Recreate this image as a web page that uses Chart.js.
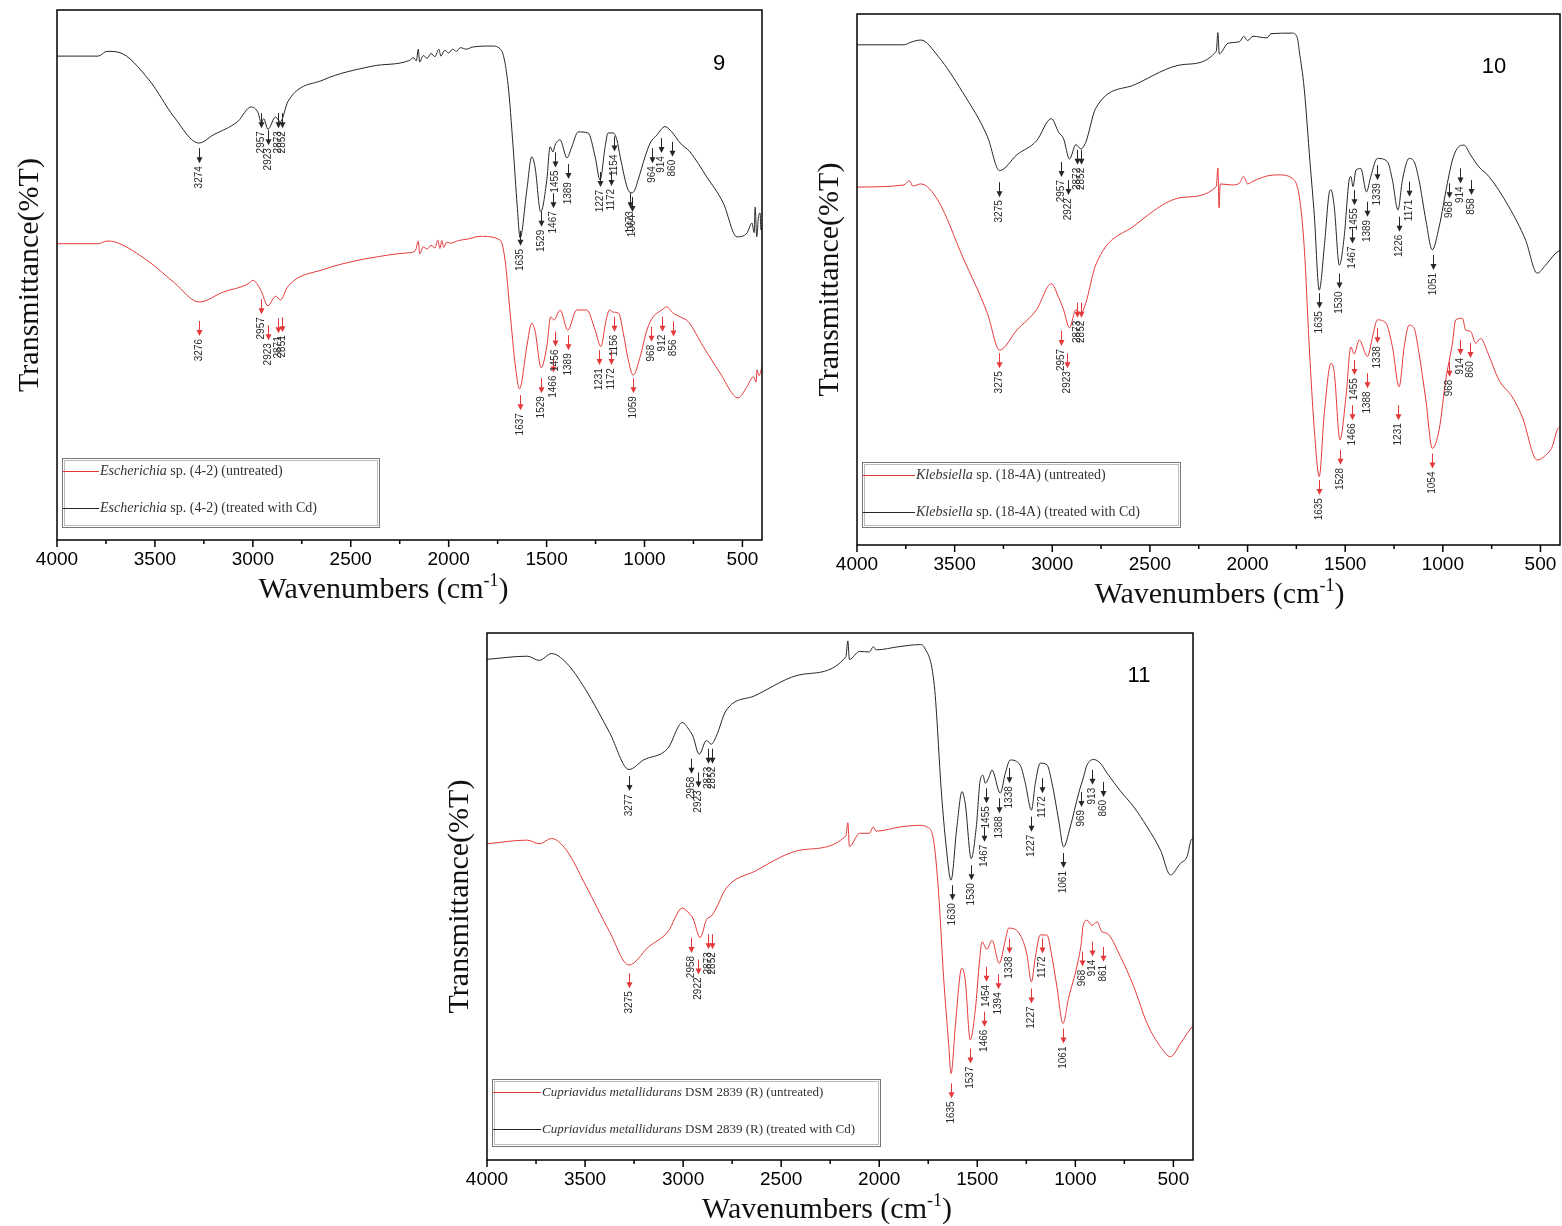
<!DOCTYPE html>
<html>
<head>
<meta charset="utf-8">
<title>FTIR spectra</title>
<script src="https://cdn.jsdelivr.net/npm/chart.js@4.4.1/dist/chart.umd.min.js"></script>
<style>
    body { margin: 0; background: #fff; }
    #page { position: relative; width: 1562px; height: 1226px; overflow: hidden; }
    canvas { position: absolute; }
</style>
</head>
<body>
<div id="page">
    <canvas id="chart9" width="780" height="615" style="left:0;top:0"></canvas>
    <canvas id="chart10" width="762" height="620" style="left:800px;top:0"></canvas>
    <canvas id="chart11" width="780" height="606" style="left:430px;top:620px"></canvas>
</div>
<script>
/**
 * Spectra: [wavenumber, relative transmittance] pairs, 4000 -> 400 cm-1.
 */
const p9Treated = [[4000,91.3],[3790,91.3],[3745,92.2],[3683,92],[3530,86.8],[3402,79.8],[3275,74.9],[3203,76.4],[3076,79],[3010,81.7],[2973,80.6],[2957,78.7],[2945,79.5],[2923,77.5],[2884,79.8],[2860,78.9],[2820,82.8],[2641,86.8],[2391,89.4],[2200,90.5],[2180,91],[2165,90.4],[2155,92.6],[2148,90.2],[2130,91.4],[2110,90.9],[2090,91.8],[2070,91.2],[2050,92.6],[2040,91.3],[2020,92.4],[2000,91.9],[1980,92.6],[1960,92.2],[1940,92.9],[1910,92.6],[1880,93],[1780,93.2],[1731,92.4],[1697,86],[1671,74.2],[1650,63],[1635,57],[1601,66],[1576,72.3],[1559,70.4],[1530,61.9],[1499,67.9],[1482,74.2],[1467,73.2],[1457,74.5],[1431,75.5],[1396,72.1],[1371,74.2],[1339,77],[1288,76.8],[1252,72.3],[1227,67.9],[1201,74.2],[1186,76.8],[1160,76.8],[1141,75.5],[1124,72.3],[1083,66],[1064,65.5],[1050,66],[1033,67.9],[997,72.3],[971,74.9],[937,76.4],[895,78],[861,77],[818,74.9],[767,73.2],[682,68.5],[598,63.6],[528,57.2],[477,57.9],[451,59.8],[440,58],[435,62.8],[427,57.2],[418,61],[410,61.7],[405,58.5],[400,59]];
const p9Untreated = [[4000,55.9],[3790,55.9],[3745,56.4],[3700,56.2],[3530,52.5],[3400,48.5],[3275,44.9],[3150,46.8],[3025,48.3],[3000,49],[2960,47.2],[2923,44.2],[2884,46],[2859,45.3],[2820,47.9],[2643,51],[2263,54],[2200,54.2],[2170,54.6],[2155,56.4],[2148,54],[2130,55.3],[2110,54.9],[2090,55.6],[2070,55.1],[2055,56.6],[2045,55],[2035,56.5],[2025,55.2],[2010,56.2],[1990,56],[1950,56.5],[1900,56.8],[1840,57.3],[1737,56.6],[1712,52.8],[1686,42.8],[1660,33],[1638,28.5],[1601,36.5],[1576,40.9],[1559,39.5],[1528,32.5],[1499,36.5],[1479,42.1],[1462,41.5],[1431,43.4],[1392,39.6],[1346,43.4],[1295,43.4],[1252,39.6],[1223,36.5],[1196,41.5],[1179,43.4],[1160,43],[1132,42.8],[1108,39],[1083,34],[1058,31.1],[1022,34.6],[988,39.6],[956,42.1],[911,43.4],[886,44],[854,42.8],[818,42.1],[777,41.2],[700,36.5],[614,31.5],[522,26.8],[477,28.9],[444,30.8],[430,29.8],[426,32.1],[415,31],[400,32.7]];

const p10Treated = [[4000,94.2],[3761,94.2],[3723,94.7],[3673,95.1],[3584,92],[3458,85.2],[3332,76.9],[3270,70.5],[3181,73.5],[3081,76.1],[3005,80.3],[2967,77.7],[2942,76.5],[2912,72.7],[2879,75.4],[2854,74.6],[2829,75.8],[2778,82.2],[2577,86.7],[2325,90.5],[2160,93],[2152,96.5],[2145,92.5],[2100,94.5],[2040,94.8],[2020,95.8],[2000,95],[1972,95.8],[1900,95.5],[1880,96.3],[1771,96.4],[1745,95.5],[1735,93],[1710,86],[1680,72],[1658,62],[1633,48],[1607,56.2],[1582,66.3],[1573,66.9],[1556,63.7],[1530,52.7],[1505,58.1],[1480,68.7],[1471,69.4],[1460,67.5],[1445,70.6],[1420,70.9],[1391,66.5],[1369,69.4],[1335,72.8],[1284,72.2],[1258,68.7],[1230,63.1],[1207,68.7],[1173,72.8],[1147,72.2],[1122,68.7],[1087,61.2],[1054,55.6],[1019,59.9],[977,68.1],[951,72.5],[926,74.7],[892,75.3],[857,73.4],[815,71.2],[764,69.4],[662,63.7],[576,57.4],[517,51.2],[474,52.7],[423,54.9],[400,55.5]];
const p10Untreated = [[4000,67.4],[3761,67.8],[3730,68.6],[3715,67.6],[3673,68],[3584,64.8],[3458,54.2],[3332,43.6],[3270,36.7],[3181,40.5],[3081,44.3],[3005,49.2],[2967,46.6],[2942,44.3],[2912,40.9],[2879,44.3],[2854,43.6],[2829,45.5],[2778,52.7],[2577,60.2],[2325,65.5],[2160,67.5],[2152,71],[2146,63.5],[2140,68],[2080,67.8],[2040,68.2],[2020,69.4],[2000,68],[1972,68.5],[1900,69.5],[1840,69.7],[1769,69],[1735,65.6],[1710,56.2],[1684,37.3],[1658,21.7],[1633,12.9],[1607,24.8],[1573,34.2],[1556,32.5],[1527,19.8],[1496,27.9],[1471,37.3],[1454,36],[1428,38.6],[1386,35.5],[1360,39.2],[1335,42.4],[1292,41.8],[1258,37.3],[1224,29.8],[1198,37.3],[1173,41.4],[1147,40.8],[1122,36.1],[1087,27.3],[1054,18.2],[1019,21.7],[985,31.1],[951,38],[934,42.4],[900,42.7],[883,40.5],[857,40.2],[832,38],[806,38.9],[772,36.4],[713,31.1],[645,27.9],[594,24.2],[517,16],[474,16.9],[440,18.5],[414,21.7],[400,22.3]];

const p11Treated = [[4000,95],[3795,95.6],[3733,94.8],[3671,96.1],[3597,94.4],[3498,89.3],[3375,81.1],[3276,74.1],[3202,75.9],[3078,78.1],[3004,83],[2967,81.5],[2950,80.4],[2918,77],[2881,79.6],[2856,78.9],[2831,80.4],[2782,85.2],[2634,88.1],[2386,92.2],[2170,95.5],[2160,98.5],[2152,95],[2100,96.5],[2050,96.4],[2030,97.4],[2016,96.8],[1900,97.4],[1793,97.8],[1769,97.2],[1719,90],[1682,69.3],[1660,60],[1634,53.1],[1604,63.2],[1578,69.9],[1561,67.5],[1531,57.2],[1505,63.2],[1485,72.1],[1471,73],[1459,71.5],[1442,72.5],[1425,74],[1383,69.6],[1357,73.4],[1332,75.9],[1281,74.9],[1255,71.5],[1224,66.4],[1204,71.5],[1179,75.3],[1145,75],[1119,71.5],[1085,64.5],[1060,59.4],[1026,63.2],[983,69.6],[958,72.7],[941,74.9],[907,76],[873,75.3],[838,73.4],[770,70],[702,67],[634,63.2],[566,58.8],[515,54.1],[464,56.3],[430,57.6],[410,60.7],[400,61]];
const p11Untreated = [[4000,60],[3795,60.7],[3733,60],[3671,61],[3597,58.9],[3498,52.2],[3375,43.3],[3276,37],[3177,40.4],[3078,43.3],[3004,47.8],[2967,46.7],[2950,45.9],[2913,42.2],[2881,45.6],[2856,46.3],[2831,47.8],[2782,51.5],[2634,54.8],[2386,58.9],[2170,61.5],[2160,64],[2152,59.5],[2100,62],[2050,62],[2030,63.2],[2016,62.4],[1893,63.2],[1793,63.5],[1757,63.2],[1723,60.7],[1697,50.6],[1672,34.8],[1646,22.1],[1634,16.4],[1612,25.3],[1587,35.4],[1578,36.4],[1561,34],[1536,22.8],[1510,28.5],[1488,38],[1476,41.4],[1451,40],[1425,41.7],[1388,37.3],[1357,41.7],[1340,44],[1281,42.7],[1247,39],[1224,33.8],[1204,38.5],[1179,42.7],[1145,42.7],[1119,38.5],[1094,32.9],[1063,25.9],[1034,30.8],[992,36.7],[970,41.1],[961,44.3],[940,45.5],[915,44.5],[889,45.2],[864,43.3],[838,43],[770,38.6],[702,32.9],[634,25.9],[566,21.5],[515,19.6],[464,22.1],[430,24],[404,25.3],[400,25.5]];

/**
 * Peak labels: [wavenumber, value at the arrow tip].
 */
const p9TreatedPeaks = [[3274,71.1],[2957,77.7],[2923,74.5],[2873,77.7],[2852,77.7],[1635,55.5],[1529,59.1],[1467,62.6],[1455,70.3],[1389,68.1],[1227,66.6],[1172,66.8],[1154,73.3],[1073,62.6],[1064,61.9],[964,71.1],[914,73],[860,72.3]];
const p9UntreatedPeaks = [[3276,38.5],[2957,42.6],[2923,37.7],[2871,39],[2851,39.2],[1637,24.5],[1529,27.7],[1466,31.6],[1456,36.5],[1389,35.8],[1231,33],[1172,33],[1156,39.3],[1059,27.7],[968,37.4],[912,39.3],[856,38.4]];
const p10TreatedPeaks = [[3275,65.5],[2957,69.3],[2922,65.9],[2872,71.6],[2852,71.6],[1635,44.6],[1530,48.3],[1467,56.8],[1455,64],[1389,61.8],[1339,68.7],[1226,59],[1171,65.6],[1051,51.8],[968,65.3],[914,68.1],[858,65.9]];
const p10UntreatedPeaks = [[3275,33.3],[2957,37.5],[2923,33.3],[2873,42.8],[2852,42.8],[1635,9.4],[1528,15.1],[1466,23.5],[1455,32],[1388,29.5],[1338,38],[1231,23.5],[1054,14.4],[968,31.7],[914,35.8],[860,35.2]];
const p11TreatedPeaks = [[3277,70],[2958,73.3],[2923,70.7],[2873,75.2],[2852,75.2],[1630,49.3],[1530,53.1],[1467,60.4],[1455,67.7],[1388,65.8],[1338,71.5],[1227,62.3],[1172,69.6],[1061,55.4],[969,67],[913,71.2],[860,68.9]];
const p11UntreatedPeaks = [[3275,32.6],[2958,39.3],[2922,35.2],[2873,40],[2852,40],[1635,11.7],[1537,18.3],[1466,25.3],[1454,33.8],[1394,32.4],[1338,39.2],[1227,29.7],[1172,39.2],[1061,22.1],[968,36.7],[914,38.6],[861,37.6]];

/**
 * Axis and legend texts.
 */
const X_RANGE = [400, 4000];
const X_TICKS = [4000, 3500, 3000, 2500, 2000, 1500, 1000, 500];
const X_MINOR_STEP = 250;
const Y_TITLE = 'Transmittance(%T)';
const X_TITLE = ['Wavenumbers (cm', '-1', ')'];
const p9Legend = ['Escherichia', ' sp. (4-2) (untreated)', ' sp. (4-2) (treated with Cd)'];
const p10Legend = ['Klebsiella', ' sp. (18-4A) (untreated)', ' sp. (18-4A) (treated with Cd)'];
const p11Legend = ['Cupriavidus metallidurans', ' DSM 2839 (R) (untreated)', ' DSM 2839 (R) (treated with Cd)'];

const RED = '#e4393b';
const BLACK = '#262626';
const SANS = '"Liberation Sans", Arial, sans-serif';
const SERIF = '"Liberation Serif", "Times New Roman", serif';

const toPoints = (pairs) => pairs.map(([x, y]) => ({ x, y }));

/**
 * Frame, ticks, peak arrows, legend and titles drawn on top of the spectra.
 */
const spectrumDecor = {
    id: 'spectrumDecor',
    afterDatasetsDraw(chart, args, opts) {
        const { ctx, scales: { x, y } } = chart;
        ctx.save();
        opts.peaks.forEach(({ list, color }) => {
            list.forEach(([wn, tip]) => {
                const px = Math.round(x.getPixelForValue(wn)) + 0.5;
                const py = y.getPixelForValue(tip);
                ctx.strokeStyle = color;
                ctx.fillStyle = color;
                ctx.lineWidth = 1;
                ctx.beginPath();
                ctx.moveTo(px, py - 15);
                ctx.lineTo(px, py - 4);
                ctx.stroke();
                ctx.beginPath();
                ctx.moveTo(px - 3, py - 6);
                ctx.lineTo(px + 3, py - 6);
                ctx.lineTo(px, py);
                ctx.closePath();
                ctx.fill();

                ctx.save();
                ctx.translate(px, py + 3);
                ctx.rotate(-Math.PI / 2);
                ctx.font = '10px ' + SANS;
                ctx.fillStyle = '#2a2a2a';
                ctx.textAlign = 'right';
                ctx.textBaseline = 'middle';
                ctx.fillText(String(wn), 0, 0);
                ctx.restore();
            });
        });
        ctx.restore();
    },
    afterDraw(chart, args, opts) {
        const { ctx, chartArea: area, scales: { x } } = chart;
        ctx.save();

        // plot frame
        ctx.strokeStyle = '#000';
        ctx.lineWidth = 1.5;
        ctx.strokeRect(area.left, area.top, area.right - area.left, area.bottom - area.top);

        // outward ticks on the wavenumber axis
        for (let v = X_RANGE[1]; v >= X_RANGE[0]; v -= X_MINOR_STEP) {
            const px = x.getPixelForValue(v);
            const len = X_TICKS.includes(v) ? 7 : 4;
            ctx.beginPath();
            ctx.moveTo(px, area.bottom);
            ctx.lineTo(px, area.bottom + len);
            ctx.stroke();
        }

        // legend
        const lg = opts.legend;
        const bx = area.left + 5;
        const by = area.bottom - lg.bottomGap - lg.height;
        ctx.strokeStyle = '#777';
        ctx.lineWidth = 1;
        ctx.strokeRect(bx + 0.5, by + 0.5, lg.width, lg.height);
        ctx.strokeStyle = '#bbb';
        ctx.strokeRect(bx + 2.5, by + 2.5, lg.width - 4, lg.height - 4);
        [[RED, lg.texts[1], 13], [BLACK, lg.texts[2], 50]].forEach(([color, tail, dy]) => {
            const ly = by + dy + 0.5;
            ctx.strokeStyle = color;
            ctx.beginPath();
            ctx.moveTo(bx + 1, ly);
            ctx.lineTo(bx + lg.lineLength, ly);
            ctx.stroke();
            ctx.fillStyle = '#333';
            ctx.textBaseline = 'middle';
            ctx.textAlign = 'left';
            ctx.font = 'italic ' + lg.fontSize + 'px ' + SERIF;
            const tx = bx + lg.lineLength + 1;
            ctx.fillText(lg.texts[0], tx, ly);
            const w = ctx.measureText(lg.texts[0]).width;
            ctx.font = lg.fontSize + 'px ' + SERIF;
            ctx.fillText(tail, tx + w, ly);
        });

        // panel number
        ctx.fillStyle = '#000';
        ctx.font = '22px ' + SANS;
        ctx.textAlign = 'center';
        ctx.textBaseline = 'middle';
        ctx.fillText(opts.tag.text, area.right - opts.tag.dx, area.top + opts.tag.dy);

        // y title
        ctx.save();
        ctx.translate(area.left - 27, (area.top + area.bottom) / 2);
        ctx.rotate(-Math.PI / 2);
        ctx.font = '30px ' + SERIF;
        ctx.fillStyle = '#111';
        ctx.fillText(Y_TITLE, 0, 0);
        ctx.restore();

        // x title with superscript
        const big = '30px ' + SERIF;
        const small = '18px ' + SERIF;
        ctx.font = big;
        const w0 = ctx.measureText(X_TITLE[0]).width;
        const w2 = ctx.measureText(X_TITLE[2]).width;
        ctx.font = small;
        const w1 = ctx.measureText(X_TITLE[1]).width;
        const total = w0 + w1 + w2;
        const ty = area.bottom + 50;
        let tx = (area.left + area.right) / 2 + opts.titleDx - total / 2;
        ctx.textAlign = 'left';
        ctx.textBaseline = 'middle';
        ctx.fillStyle = '#111';
        ctx.font = big;
        ctx.fillText(X_TITLE[0], tx, ty);
        tx += w0;
        ctx.font = small;
        ctx.fillText(X_TITLE[1], tx, ty - 9);
        tx += w1;
        ctx.font = big;
        ctx.fillText(X_TITLE[2], tx, ty);

        ctx.restore();
    }
};

const buildChart = (id, cfg) => new Chart(document.getElementById(id), {
    type: 'line',
    data: {
        datasets: [
            { data: toPoints(cfg.untreated), borderColor: RED, borderWidth: 1, pointRadius: 0, cubicInterpolationMode: 'monotone' },
            { data: toPoints(cfg.treated), borderColor: BLACK, borderWidth: 1, pointRadius: 0, cubicInterpolationMode: 'monotone' }
        ]
    },
    options: {
        responsive: false,
        animation: false,
        devicePixelRatio: 1,
        layout: { padding: { left: 57, top: cfg.padTop, right: cfg.padRight, bottom: 0 } },
        plugins: {
            legend: { display: false },
            tooltip: { enabled: false },
            spectrumDecor: {
                peaks: [
                    { list: cfg.untreatedPeaks, color: RED },
                    { list: cfg.treatedPeaks, color: BLACK }
                ],
                legend: cfg.legend,
                tag: cfg.tag,
                titleDx: cfg.titleDx
            }
        },
        scales: {
            x: {
                type: 'linear',
                reverse: true,
                min: X_RANGE[0],
                max: X_RANGE[1],
                grid: { display: false },
                border: { display: false },
                afterBuildTicks: (scale) => {
                    scale.ticks = X_TICKS.slice().reverse().map((value) => ({ value }));
                },
                ticks: {
                    autoSkip: false,
                    maxRotation: 0,
                    padding: 0,
                    color: '#000',
                    font: { family: SANS, size: 19 },
                    callback: (value) => String(value)
                },
                afterFit: (scale) => {
                    scale.height = cfg.axisHeight;
                    scale.paddingLeft = 0;
                    scale.paddingRight = 0;
                }
            },
            y: { display: false, min: 0, max: 100 }
        }
    },
    plugins: [spectrumDecor]
});

buildChart('chart9', {
    treated: p9Treated, untreated: p9Untreated,
    treatedPeaks: p9TreatedPeaks, untreatedPeaks: p9UntreatedPeaks,
    padTop: 10, padRight: 18, axisHeight: 75, titleDx: -26,
    tag: { text: '9', dx: 43, dy: 54 },
    legend: { texts: p9Legend, width: 317, height: 69, bottomGap: 13, lineLength: 37, fontSize: 14 }
});

buildChart('chart10', {
    treated: p10Treated, untreated: p10Untreated,
    treatedPeaks: p10TreatedPeaks, untreatedPeaks: p10UntreatedPeaks,
    padTop: 14, padRight: 2, axisHeight: 75, titleDx: 11,
    tag: { text: '10', dx: 66, dy: 53 },
    legend: { texts: p10Legend, width: 318, height: 65, bottomGap: 18, lineLength: 53, fontSize: 14 }
});

buildChart('chart11', {
    treated: p11Treated, untreated: p11Untreated,
    treatedPeaks: p11TreatedPeaks, untreatedPeaks: p11UntreatedPeaks,
    padTop: 13, padRight: 17, axisHeight: 66, titleDx: -13,
    tag: { text: '11', dx: 54, dy: 43 },
    legend: { texts: p11Legend, width: 388, height: 67, bottomGap: 14, lineLength: 49, fontSize: 13 }
});
</script>
</body>
</html>
